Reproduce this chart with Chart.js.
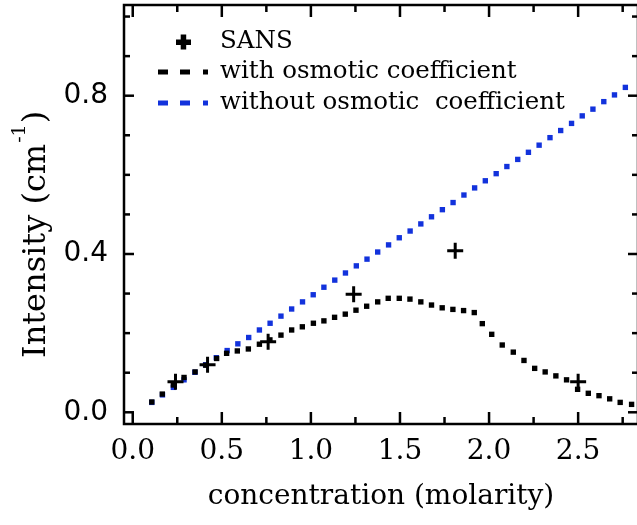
<!DOCTYPE html>
<html>
<head>
<meta charset="utf-8">
<script src="https://cdn.jsdelivr.net/npm/chart.js@4.4.0/dist/chart.umd.min.js"></script>
<style>
  html, body { margin: 0; padding: 0; background: #fff; overflow: hidden; }
  #wrap { width: 642px; height: 525px; }
</style>
</head>
<body>
<div id="wrap"><canvas id="chart" width="642" height="525"></canvas></div>
<script>
// SANS measurements
const sansConc = [0.24, 0.42, 0.76, 1.24, 1.81, 2.50];
const sansIntensity = [0.077, 0.120, 0.178, 0.298, 0.408, 0.077];

// model with osmotic coefficient
const withConc = [0.107, 0.166, 0.228, 0.288, 0.350, 0.410, 0.471, 0.527, 0.587, 0.649,
  0.711, 0.770, 0.832, 0.892, 0.952, 1.014, 1.073, 1.133, 1.193, 1.253,
  1.313, 1.375, 1.434, 1.496, 1.556, 1.617, 1.677, 1.737, 1.797, 1.857,
  1.917, 1.962, 2.015, 2.074, 2.136, 2.196, 2.256, 2.315, 2.375, 2.435,
  2.497, 2.557, 2.617, 2.677, 2.736, 2.800];
const withIntensity = [0.026, 0.046, 0.069, 0.088, 0.102, 0.119, 0.136, 0.149, 0.155, 0.160,
  0.172, 0.183, 0.195, 0.208, 0.216, 0.225, 0.231, 0.240, 0.248, 0.258,
  0.268, 0.279, 0.288, 0.288, 0.286, 0.279, 0.271, 0.264, 0.260, 0.257,
  0.252, 0.224, 0.197, 0.170, 0.152, 0.131, 0.111, 0.102, 0.092, 0.082,
  0.058, 0.048, 0.042, 0.034, 0.025, 0.020];

// model without osmotic coefficient
const withoutConc = [0.107, 0.167, 0.228, 0.288, 0.349, 0.409, 0.469, 0.530, 0.590, 0.651,
  0.711, 0.771, 0.832, 0.892, 0.953, 1.013, 1.073, 1.134, 1.194, 1.255,
  1.315, 1.375, 1.436, 1.496, 1.557, 1.617, 1.677, 1.738, 1.798, 1.859,
  1.919, 1.979, 2.040, 2.100, 2.161, 2.221, 2.281, 2.342, 2.402, 2.463,
  2.523, 2.583, 2.644, 2.704, 2.765];
const withoutIntensity = [0.025, 0.044, 0.063, 0.082, 0.101, 0.120, 0.138, 0.156, 0.173, 0.189,
  0.208, 0.225, 0.243, 0.261, 0.279, 0.297, 0.316, 0.334, 0.352, 0.370,
  0.387, 0.405, 0.423, 0.441, 0.458, 0.476, 0.494, 0.512, 0.530, 0.549,
  0.567, 0.585, 0.603, 0.621, 0.639, 0.657, 0.675, 0.694, 0.712, 0.730,
  0.749, 0.766, 0.785, 0.802, 0.821];

// axis ticks
const xMajor = [0, 0.5, 1.0, 1.5, 2.0, 2.5];
const xMinor = [0.25, 0.75, 1.25, 1.75, 2.25, 2.75];
const yMajor = [0, 0.4, 0.8];
const yMinor = [0.1, 0.2, 0.3, 0.5, 0.6, 0.7, 0.9, 1.0];

const seriesLabels = ['SANS', 'with osmotic coefficient', 'without osmotic  coefficient'];
const BLUE = '#1232dc';

function toPoints(xs, ys) {
  return xs.map((x, i) => ({ x: x, y: ys[i] }));
}

// frame with inward ticks on all four sides
const frameTicks = {
  id: 'frameTicks',
  afterDraw(chart) {
    const { ctx, chartArea: a, scales } = chart;
    const line = (x1, y1, x2, y2) => {
      ctx.beginPath(); ctx.moveTo(x1, y1); ctx.lineTo(x2, y2); ctx.stroke();
    };
    ctx.save();
    ctx.strokeStyle = '#000';
    ctx.lineWidth = 2.5;
    ctx.strokeRect(a.left, a.top, a.right - a.left, a.bottom - a.top);
    xMajor.concat(xMinor).forEach(v => {
      const len = xMajor.includes(v) ? 12 : 7;
      const px = scales.x.getPixelForValue(v);
      line(px, a.bottom, px, a.bottom - len);
      line(px, a.top, px, a.top + len);
    });
    yMajor.concat(yMinor).forEach(v => {
      const len = yMajor.includes(v) ? 10 : 6;
      const py = scales.y.getPixelForValue(v);
      line(a.left, py, a.left + len, py);
      line(a.right, py, a.right - len, py);
    });

    // y axis title with a real superscript
    ctx.fillStyle = '#000';
    ctx.translate(45, 358);
    ctx.rotate(-Math.PI / 2);
    ctx.textBaseline = 'alphabetic';
    ctx.textAlign = 'left';
    ctx.font = '32px "DejaVu Serif"';
    const main = 'Intensity (cm';
    ctx.fillText(main, 0, 0);
    let w = ctx.measureText(main).width;
    ctx.font = '19px "DejaVu Serif"';
    ctx.fillText('-1', w + 1, -20);
    w += ctx.measureText('-1').width + 2;
    ctx.font = '32px "DejaVu Serif"';
    ctx.fillText(')', w, 0);
    ctx.restore();
  }
};

// legend inside the plot, upper left
const insideLegend = {
  id: 'insideLegend',
  afterDraw(chart) {
    const ctx = chart.ctx;
    const ds = chart.data.datasets;
    const rows = [42, 72, 103];
    const textX = 220;
    ctx.save();
    ctx.font = '24.5px "DejaVu Serif"';
    ctx.textBaseline = 'middle';
    ctx.fillStyle = '#000';

    // SANS: bold plus
    ctx.fillRect(176, rows[0] - 2.5, 15, 5.5);
    ctx.fillRect(180.7, rows[0] - 7.5, 5.5, 15);
    ctx.fillText(ds[0].label, textX, rows[0]);

    // dashed samples
    [1, 2].forEach(i => {
      ctx.fillStyle = ds[i].backgroundColor;
      const y = rows[i];
      ctx.fillRect(158, y - 2.5, 10, 5);
      ctx.fillRect(180, y - 2.5, 10, 5);
      ctx.fillRect(203, y - 2.5, 5, 5);
      ctx.fillStyle = '#000';
      ctx.fillText(ds[i].label, textX, y);
    });
    ctx.restore();
  }
};

const ctx = document.getElementById('chart').getContext('2d');
const chart = new Chart(ctx, {
  type: 'scatter',
  data: {
    datasets: [
      {
        label: seriesLabels[0],
        data: toPoints(sansConc, sansIntensity),
        pointStyle: 'cross',
        pointRadius: 8,
        borderWidth: 3,
        borderColor: '#000',
        backgroundColor: '#000'
      },
      {
        label: seriesLabels[1],
        data: toPoints(withConc, withIntensity),
        pointStyle: 'rect',
        pointRadius: 3.8,
        borderWidth: 0,
        backgroundColor: '#000',
        borderColor: '#000'
      },
      {
        label: seriesLabels[2],
        data: toPoints(withoutConc, withoutIntensity),
        pointStyle: 'rect',
        pointRadius: 3.8,
        borderWidth: 0,
        backgroundColor: BLUE,
        borderColor: BLUE
      }
    ]
  },
  options: {
    responsive: false,
    animation: false,
    events: [],
    layout: { autoPadding: false, padding: { left: 0, top: 5, right: 4, bottom: 0 } },
    plugins: {
      legend: { display: false },
      tooltip: { enabled: false }
    },
    scales: {
      x: {
        type: 'linear',
        min: -0.049,
        max: 2.836,
        grid: { display: false },
        border: { display: false },
        afterBuildTicks: s => { s.ticks = xMajor.concat(xMinor).sort((a, b) => a - b).map(v => ({ value: v })); },
        afterFit: s => { s.height = 101; s.paddingLeft = 0; s.paddingRight = 0; },
        ticks: {
          autoSkip: false,
          maxRotation: 0,
          padding: 3,
          color: '#000',
          font: { family: 'DejaVu Serif', size: 28 },
          callback: v => xMajor.includes(v) ? v.toFixed(1) : null
        },
        title: {
          display: true,
          text: 'concentration (molarity)',
          color: '#000',
          font: { family: 'DejaVu Serif', size: 28 },
          padding: { top: 0, bottom: 11 }
        }
      },
      y: {
        type: 'linear',
        min: -0.0296,
        max: 1.0292,
        grid: { display: false },
        border: { display: false },
        afterBuildTicks: s => { s.ticks = yMajor.concat(yMinor).sort((a, b) => a - b).map(v => ({ value: v })); },
        afterFit: s => { s.width = 124; s.paddingTop = 0; s.paddingBottom = 0; },
        ticks: {
          autoSkip: false,
          padding: 8,
          color: '#000',
          font: { family: 'DejaVu Sans', size: 28 },
          callback: v => yMajor.includes(v) ? v.toFixed(1) : null
        },
        title: { display: false }
      }
    }
  },
  plugins: [frameTicks, insideLegend]
});
</script>
</body>
</html>
